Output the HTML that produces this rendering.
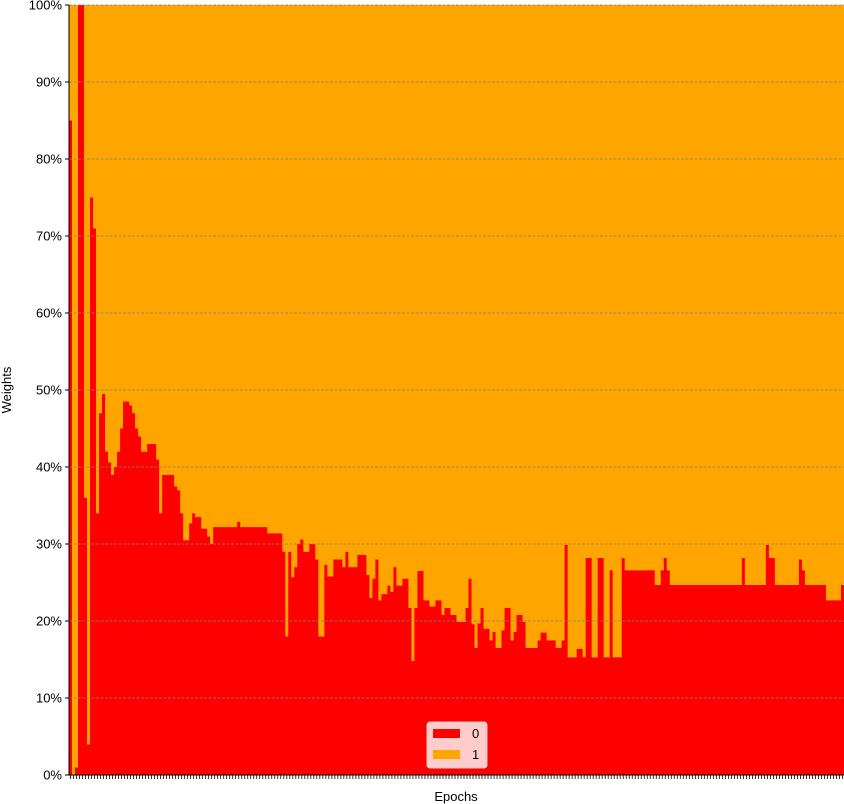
<!DOCTYPE html>
<html><head><meta charset="utf-8"><style>
body{margin:0;background:#fff;}
svg{display:block;font-family:"Liberation Sans","DejaVu Sans",sans-serif;}
</style></head><body>
<svg id="chart" width="844" height="804" viewBox="0 0 844 804"></svg>
<script>
const categoryCount = 258;
const seriesLabels = ["0", "1"];
const series0 = [
85,0,1,100,100,36,4,75,71,34,
47,49.5,42,40.6,39,40,42,45,48.5,48.5,
48,47,45,44,42,42,43,43,43,41,
34,39,39,39,39,37.5,37,34,30.5,30.5,
32.7,34,33.5,33.5,32,32,31,30,32.2,32.2,
32.2,32.2,32.2,32.2,32.2,32.2,32.9,32.2,32.2,32.2,
32.2,32.2,32.2,32.2,32.2,32.2,31.4,31.4,31.4,31.4,
31.4,29,18,29,25.7,27,30,30.6,29,29,
30,30,28,18,18,27.3,25.8,25.8,28,28,
28,27,29,27,27,27,28.6,28.6,28.6,26,
23,25.5,28,22.7,23.5,23.5,24.6,23.8,27,24.6,
24.6,25.5,25.5,21.7,14.8,21.7,26.5,26.5,22.7,22.7,
21.9,21.9,22.7,22.7,20.8,21.7,21.7,20.8,20.8,19.9,
19.9,19.9,21.7,25.5,19.6,16.5,19.7,21.7,19,19,
17.5,18.6,16.5,16.5,18.8,21.7,21.7,17.5,18.6,20.8,
20.8,19.9,16.5,16.5,16.5,16.5,17.5,18.5,18.5,17.5,
17.5,17.5,16.5,16.5,17.5,29.9,15.3,15.3,15.3,16.4,
16.4,15.3,28.2,28.2,15.3,15.3,28.2,28.2,15.3,15.3,
26.6,15.3,15.3,15.3,28.2,26.6,26.6,26.6,26.6,26.6,
26.6,26.6,26.6,26.6,26.6,24.7,24.7,26.6,28.2,26.6,
24.7,24.7,24.7,24.7,24.7,24.7,24.7,24.7,24.7,24.7,
24.7,24.7,24.7,24.7,24.7,24.7,24.7,24.7,24.7,24.7,
24.7,24.7,24.7,24.7,28.2,24.7,24.7,24.7,24.7,24.7,
24.7,24.7,29.9,28.2,28.2,24.7,24.7,24.7,24.7,24.7,
24.7,24.7,24.7,28,26.6,24.7,24.7,24.7,24.7,24.7,
24.7,24.7,22.7,22.7,22.7,22.7,22.7,24.7
];
const yTickValues = [0,10,20,30,40,50,60,70,80,90,100];
const yTickLabels = ["0%","10%","20%","30%","40%","50%","60%","70%","80%","90%","100%"];

const NS = "http://www.w3.org/2000/svg";
const svg = document.getElementById('chart');
const X0 = 69, X1 = 844, Y0 = 775, Y1 = 5;
const n = series0.length;
const bw = (X1 - X0) / n;
function xScale(i){ return X0 + i * bw; }
function yScale(v){ return Y0 - (v / 100) * (Y0 - Y1); }
function mk(tag, attrs){ const e = document.createElementNS(NS, tag); for (const k in attrs) e.setAttribute(k, attrs[k]); svg.appendChild(e); return e; }

// bars
for (let i = 0; i < n; i++) {
  const v0 = series0[i];
  const v1 = 100 - v0;
  const x = xScale(i);
  const r = mk('rect', {x: x, y: yScale(v0), width: bw + 0.4, height: yScale(0) - yScale(v0), fill: '#ff0000'});
  
  
  const o = mk('rect', {x: x, y: yScale(v0 + v1), width: bw + 0.4, height: yScale(v0) - yScale(v0 + v1), fill: '#ffa500'});
  
  
}
// grid + y ticks
yTickValues.forEach((v, k) => {
  const y = yScale(v);
  const g = mk('line', {x1: X0, x2: X1, y1: y, y2: y, stroke: '#808080', 'stroke-width': 0.8, 'stroke-dasharray': '3,1.5'});
  
  
  const t = mk('line', {x1: X0 - 4, x2: X0, y1: y, y2: y, stroke: '#000', 'stroke-width': 1});
  
  
  const lb = mk('text', {x: X0 - 7, y: y + 4.5, 'text-anchor': 'end', 'font-size': 13, fill: '#000'});
  lb.textContent = yTickLabels[k];
  
  
});
// x ticks
for (let i = 0; i < n; i++) {
  const x = xScale(i) + bw / 2;
  const t = mk('line', {x1: x, x2: x, y1: Y0, y2: Y0 + 4, stroke: '#000', 'stroke-width': 0.8});
  
  
}
// spines
const sl = mk('line', {x1: X0, x2: X0, y1: Y1, y2: Y0, stroke: '#000', 'stroke-width': 1});


const sb = mk('line', {x1: X0, x2: X1, y1: Y0, y2: Y0, stroke: '#000', 'stroke-width': 1});


// axis titles
const xt = mk('text', {x: 456, y: 801, 'text-anchor': 'middle', 'font-size': 13});
xt.textContent = 'Epochs';


const yt = mk('text', {x: 0, y: 0, 'text-anchor': 'middle', 'font-size': 13, transform: 'translate(11,390) rotate(-90)'});
yt.textContent = 'Weights';


// legend
const lg = mk('rect', {x: 427, y: 722, width: 60, height: 46, rx: 3, fill: 'rgba(255,255,255,0.8)', stroke: '#ccc'});


const colors = ['#ff0000', '#ffa500'];
seriesLabels.forEach((s, k) => {
  const p = mk('rect', {x: 433, y: 729 + k * 21, width: 27, height: 9, fill: colors[k]});
  
  
  const t = mk('text', {x: 472, y: 738 + k * 21, 'font-size': 13});
  t.textContent = s;
  
  
});
</script>
</body></html>
